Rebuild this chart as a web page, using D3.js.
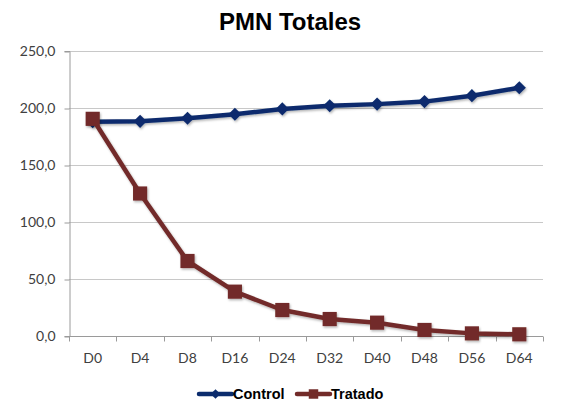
<!DOCTYPE html>
<html>
<head>
<meta charset="utf-8">
<script src="https://cdn.jsdelivr.net/npm/d3@7"></script>
<style>
  body { margin: 0; background: #fff; }
</style>
</head>
<body>
<div id="chart"></div>
<script>
var categories = ["D0", "D4", "D8", "D16", "D24", "D32", "D40", "D48", "D56", "D64"];
var control = [188.0, 188.3, 191.0, 194.5, 199.2, 202.0, 203.4, 205.6, 210.8, 217.8];
var tratado = [190.5, 125.0, 65.8, 38.9, 22.8, 14.9, 11.7, 5.3, 2.3, 1.5];
var yTicks = [0, 50, 100, 150, 200, 250];
var seriesNames = ["Control", "Tratado"];
var colors = ["#0b2c6d", "#722b29"];

var width = 573, height = 411;
var margin = { top: 51, left: 69, right: 30, bottom: 75 };

var svg = d3.select("#chart").append("svg")
            .attr("width", width)
            .attr("height", height)
            .attr("font-family", "Lato, sans-serif");

var defs = svg.append("defs");
var f = defs.append("filter").attr("id", "shadow")
            .attr("x", "-20%").attr("y", "-20%").attr("width", "140%").attr("height", "140%");
f.append("feDropShadow").attr("dx", 1).attr("dy", 1.5).attr("stdDeviation", 1)
 .attr("flood-color", "#000").attr("flood-opacity", 0.3);

var x = d3.scaleBand()
          .domain(categories)
          .range([margin.left, width - margin.right]);

var y = d3.scaleLinear()
          .domain([0, 250])
          .range([height - margin.bottom, margin.top]);

var fmt = d => d3.format(".1f")(d).replace(".", ",");

// gridlines
svg.append("g")
   .selectAll("line")
   .data(yTicks.filter(d => d > 0))
   .enter().append("line")
   .attr("x1", margin.left)
   .attr("x2", width - margin.right)
   .attr("y1", d => y(d) + 0.5)
   .attr("y2", d => y(d) + 0.5)
   .attr("stroke", "#c8c8c8")
   .attr("stroke-width", 1);

// y axis
var yAxis = svg.append("g")
   .attr("transform", "translate(" + (margin.left + 0.5) + ",0)")
   .call(d3.axisLeft(y).tickValues(yTicks).tickSize(5).tickFormat(fmt));
yAxis.attr("font-family", "Lato, sans-serif");
yAxis.select(".domain").attr("stroke", "#9a9a9a");
yAxis.selectAll(".tick line").attr("stroke", "#9a9a9a").attr("transform", "translate(0,0.5)");
yAxis.selectAll(".tick text").attr("font-size", 14).attr("fill", "#404040").attr("x", -14);

// x axis
var xAxis = svg.append("g")
   .attr("transform", "translate(0," + (y(0) + 0.5) + ")");
xAxis.append("line")
     .attr("x1", margin.left).attr("x2", width - margin.right)
     .attr("stroke", "#9a9a9a");
xAxis.selectAll(".tk")
     .data(categories.concat(["end"]))
     .enter().append("line")
     .attr("x1", (d, i) => Math.round(i < categories.length ? x(d) : x.range()[1]) + 0.5)
     .attr("x2", (d, i) => Math.round(i < categories.length ? x(d) : x.range()[1]) + 0.5)
     .attr("y1", 0).attr("y2", 5)
     .attr("stroke", "#9a9a9a");
xAxis.selectAll("text")
     .data(categories)
     .enter().append("text")
     .attr("x", d => x(d) + x.bandwidth() / 2)
     .attr("y", 26)
     .attr("text-anchor", "middle")
     .attr("font-size", 14)
     .attr("fill", "#404040")
     .text(d => d);

var line = d3.line()
             .x((d, i) => x(categories[i]) + x.bandwidth() / 2)
             .y(d => y(d));

var diamond = d3.symbol().type(d3.symbolDiamond2).size(110);
var square = d3.symbol().type(d3.symbolSquare).size(200);

function drawSeries(data, color, sym) {
  var g = svg.append("g").attr("filter", "url(#shadow)");
  g.append("path")
   .datum(data)
   .attr("d", line)
   .attr("fill", "none")
   .attr("stroke", color)
   .attr("stroke-width", 4.5)
   .attr("stroke-linejoin", "round");
  g.selectAll("path.m")
   .data(data)
   .enter().append("path")
   .attr("class", "m")
   .attr("d", sym)
   .attr("transform", (d, i) => "translate(" + (x(categories[i]) + x.bandwidth() / 2) + "," + y(d) + ")")
   .attr("fill", color);
}

drawSeries(control, colors[0], diamond);
drawSeries(tratado, colors[1], square);

// title
svg.append("text")
   .attr("x", 290)
   .attr("y", 30)
   .attr("text-anchor", "middle")
   .attr("font-family", "'Liberation Sans', Arial, sans-serif")
   .attr("font-weight", "bold")
   .attr("font-size", 24)
   .attr("fill", "#000")
   .text("PMN Totales");

// legend
var legendX = [199, 297];
var legendSyms = [d3.symbol().type(d3.symbolDiamond2).size(60), d3.symbol().type(d3.symbolSquare).size(90)];
var lg = svg.append("g").selectAll("g")
            .data(seriesNames)
            .enter().append("g")
            .attr("transform", (d, i) => "translate(" + legendX[i] + ",394)");
lg.append("line")
  .attr("x1", 0).attr("x2", 33)
  .attr("stroke", (d, i) => colors[i])
  .attr("stroke-width", 4.5)
  .attr("stroke-linecap", "round");
lg.append("path")
  .attr("d", (d, i) => legendSyms[i]())
  .attr("transform", "translate(16.5,0)")
  .attr("fill", (d, i) => colors[i]);
lg.append("text")
  .attr("x", 34)
  .attr("y", 5)
  .attr("font-family", "'Liberation Sans', Arial, sans-serif")
  .attr("font-weight", "bold")
  .attr("font-size", 14.5)
  .attr("fill", "#000")
  .text(d => d);
</script>
</body>
</html>
